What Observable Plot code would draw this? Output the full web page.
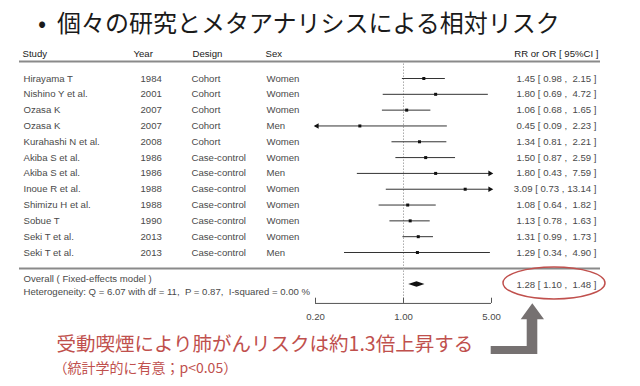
<!DOCTYPE html>
<html><head><meta charset="utf-8">
<script src="https://cdn.jsdelivr.net/npm/d3@7"></script>
<script src="https://cdn.jsdelivr.net/npm/@observablehq/plot@0.6"></script>
<style>
body{margin:0;background:#fff;width:640px;height:386px;overflow:hidden}
#title{height:40px;line-height:43px;font-family:"Noto Sans CJK JP";font-size:24px;color:#1a1a1a;padding-left:38px;white-space:pre}
#chart svg{display:block}
#chart text{white-space:pre}
</style></head><body>
<div id="title">•  個々の研究とメタアナリシスによる相対リスク</div>
<div id="chart"></div>
<script>
// ---- data ----
const studies = ["Hirayama T","Nishino Y et al.","Ozasa K","Ozasa K","Kurahashi N et al.","Akiba S et al.","Akiba S et al.","Inoue R et al.","Shimizu H et al.","Sobue T","Seki T et al.","Seki T et al."];
const years = ["1984","2001","2007","2007","2008","1986","1986","1988","1988","1990","2013","2013"];
const designs = ["Cohort","Cohort","Cohort","Cohort","Cohort","Case-control","Case-control","Case-control","Case-control","Case-control","Case-control","Case-control"];
const sexes = ["Women","Women","Women","Men","Women","Women","Men","Women","Women","Women","Women","Men"];
const estimates = [1.45,1.80,1.06,0.45,1.34,1.50,1.80,3.09,1.08,1.13,1.31,1.29];
const lowers = [0.98,0.69,0.68,0.09,0.81,0.87,0.43,0.73,0.64,0.78,0.99,0.34];
const uppers = [2.15,4.72,1.65,2.23,2.21,2.59,7.59,13.14,1.82,1.63,1.73,4.90];
const overallEst = 1.28, overallLo = 1.10, overallHi = 1.48;
const overallLabel = "Overall ( Fixed-effects model )";
const heterogeneity = "Heterogeneity: Q = 6.07 with df = 11,  P = 0.87,  I-squared = 0.00 %";
const headers = ["Study","Year","Design","Sex","RR or OR [ 95%CI ]"];
const axisTicks = [0.2, 1, 5];
const conclusion = "受動喫煙により肺がんリスクは約1.3倍上昇する";
const note = "（統計学的に有意；p<0.05）";

// ---- layout (row units) ----
const L = {header:-1.55, headerRule:-1.07, sep:12.01, overall:13.02, axis:14.22, tickLabel:15.05};
const xmin = axisTicks[0], xmax = axisTicks[axisTicks.length-1];
const f2 = d3.format(".2f");
const pad = (s,n) => s.padStart(n," ");
const lbl = (e,l,h) => `${f2(e)} [ ${f2(l)} , ${pad(f2(h),5)} ]`;

const rows = studies.map((s,i)=>({
  i, study:s, year:years[i], design:designs[i], sex:sexes[i],
  est:estimates[i], lo:lowers[i], hi:uppers[i],
  loC:Math.max(lowers[i],xmin), hiC:Math.min(uppers[i],xmax),
  label:lbl(estimates[i],lowers[i],uppers[i])
}));
const diamond = [
  {x:overallLo, y1:L.overall, y2:L.overall},
  {x:overallEst, y1:L.overall-0.17, y2:L.overall+0.17},
  {x:overallHi, y1:L.overall, y2:L.overall}
];

const ML = 19, MR = 40;
const FF = "Liberation Sans, Arial, sans-serif";
const txt = {fontSize:9.6, fill:"#4a4a4a", fontFamily:FF};
const hdr = {fontSize:9.6, fill:"#1a1a1a", fontFamily:FF};
const colX = {study:23, year:140, design:191, sex:266};
const hdrX = [22,133,192,265];

const marks = [];
// header
headers.slice(0,4).forEach((h,k)=>marks.push(Plot.text([h],{frameAnchor:"left", y:()=>L.header, dx:hdrX[k]-ML, textAnchor:"start", ...hdr})));
marks.push(Plot.text([headers[4]],{frameAnchor:"right", y:()=>L.header, dx:-2, textAnchor:"end", ...hdr}));
marks.push(Plot.ruleY([L.headerRule],{stroke:"#8a8a8a", strokeWidth:2}));
marks.push(Plot.ruleY([L.sep],{stroke:"#8a8a8a", strokeWidth:2}));
// reference line at 1
marks.push(Plot.ruleX([1],{y1:()=>L.headerRule+0.15, y2:()=>L.axis, stroke:"#aaa", strokeDasharray:"1.5,1.5"}));
// row texts
for (const [k,x] of Object.entries(colX)) {
  marks.push(Plot.text(rows,{frameAnchor:"left", y:"i", text:k, dx:x-ML, textAnchor:"start", ...txt}));
}
marks.push(Plot.text(rows,{frameAnchor:"right", y:"i", text:"label", dx:-4, textAnchor:"end", ...txt}));
// CIs
marks.push(Plot.ruleY(rows,{y:"i", x1:"loC", x2:"hiC", stroke:"#333", strokeWidth:1}));
marks.push(Plot.dot(rows,{x:"est", y:"i", symbol:"square", r:1.7, fill:"#111", stroke:"none"}));
marks.push(Plot.dot(rows.filter(d=>d.hi>xmax),{x:"hiC", y:"i", symbol:"triangle", rotate:90, r:2.1, dx:-1.5, fill:"#111", stroke:"none"}));
marks.push(Plot.dot(rows.filter(d=>d.lo<xmin),{x:"loC", y:"i", symbol:"triangle", rotate:-90, r:2.1, dx:1.5, fill:"#111", stroke:"none"}));
// overall
marks.push(Plot.areaY(diamond,{x:"x", y1:"y1", y2:"y2", fill:"#111", curve:"linear"}));
marks.push(Plot.text([overallLabel+"\n"+heterogeneity],{frameAnchor:"left", y:()=>L.overall, dx:23-ML, textAnchor:"start", lineHeight:1.4, ...txt}));
marks.push(Plot.text([lbl(overallEst,overallLo,overallHi)],{frameAnchor:"right", y:()=>L.overall, dx:-4, textAnchor:"end", ...txt}));
// axis
marks.push(Plot.ruleY([{y:L.axis, x1:xmin, x2:xmax}],{y:"y", x1:"x1", x2:"x2", stroke:"#555", strokeWidth:1}));
marks.push(Plot.ruleX(axisTicks,{x:d=>d, y1:()=>L.axis-0.33, y2:()=>L.axis, stroke:"#555"}));
marks.push(Plot.text(axisTicks,{x:d=>d, y:()=>L.tickLabel, text:d=>f2(d), ...txt}));
// annotation: ellipse + arrow
marks.push((index, scales, values, dimensions) => {
  const sy = scales.y;
  const cx = dimensions.width - dimensions.marginRight - 46;
  const cy = sy(L.overall) - 1;
  const g = d3.create("svg:g");
  g.append("ellipse").attr("cx",cx).attr("cy",cy).attr("rx",51).attr("ry",16)
    .attr("fill","none").attr("stroke","#c0504d").attr("stroke-width",1.5);
  const p = [[-21.7,20.3],[-10,36.3],[-16.7,36.3],[-16.7,71],[-63.3,71],[-63.3,63],[-27.3,63],[-27.3,36.3],[-33.3,36.3]];
  g.append("polygon").attr("points",p.map(([a,b])=>`${cx+a},${cy+b}`).join(" ")).attr("fill","#767171");
  return g.node();
});
// conclusion text
marks.push(Plot.text([conclusion],{frameAnchor:"bottom-left", lineAnchor:"middle", dx:56-ML, dy:-42, textAnchor:"start", fontSize:19.5, fill:"#c0504d", fontFamily:"Noto Sans CJK JP"}));
marks.push(Plot.text([note],{frameAnchor:"bottom-left", lineAnchor:"middle", dx:53-ML, dy:-17.5, textAnchor:"start", fontSize:14, fill:"#c0504d", fontFamily:"Noto Sans CJK JP"}));

const chart = Plot.plot({
  width:640, height:346,
  marginLeft:ML, marginRight:MR, marginTop:0, marginBottom:0,
  x:{type:"log", domain:[xmin,xmax], range:[315,491], axis:null},
  y:{type:"linear", domain:[0,11], range:[38,212], axis:null},
  style:{background:"#fff", fontFamily:FF},
  marks
});
document.getElementById("chart").append(chart);
</script>
</body></html>
